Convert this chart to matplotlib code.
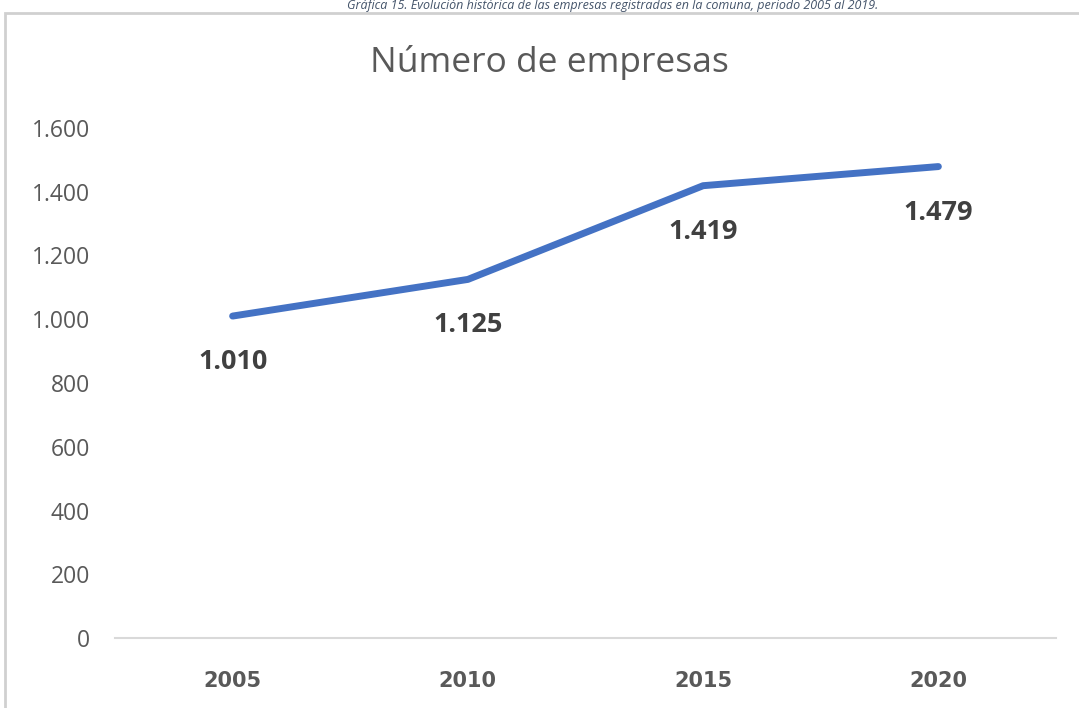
import matplotlib.pyplot as plt
from matplotlib.patches import Rectangle

# Datos
anios = ["2005", "2010", "2015", "2020"]
empresas = [1010, 1125, 1419, 1479]
etiquetas = ["1.010", "1.125", "1.419", "1.479"]
yticks = [0, 200, 400, 600, 800, 1000, 1200, 1400, 1600]
ytick_labels = ["0", "200", "400", "600", "800", "1.000", "1.200", "1.400", "1.600"]

fig = plt.figure(figsize=(10.79, 7.08), dpi=100)
ax = fig.add_axes([115 / 1079, 70 / 708, 941 / 1079, 510 / 708])

# Leyenda de la gráfica (arriba del marco)
fig.text(613 / 1079, 1 - 6 / 708, "Gráfica 15. Evolución histórica de las empresas registradas en la comuna, periodo 2005 al 2019.",
         ha="center", va="center", fontsize=9, style="italic", color="#44546a", family=["Open Sans", "DejaVu Sans"])
# Marco del gráfico
fig.patches.append(Rectangle((5 / 1079, -0.05), 1.1, 1 - 13 / 708 + 0.05, transform=fig.transFigure,
                             fill=False, edgecolor="#d0d0d0", linewidth=2))

x = range(len(anios))
ax.plot(x, empresas, color="#4472c4", linewidth=5, solid_capstyle="round")

for xi, yi, t in zip(x, empresas, etiquetas):
    ax.annotate(t, (xi, yi), xytext=(0, -46), textcoords="offset pixels", ha="center", va="center",
                fontsize=19.5, fontweight="bold", color="#404040", family=["Open Sans", "DejaVu Sans"])

ax.set_xlim(-0.5, 3.5)
ax.set_ylim(0, 1600)
ax.set_xticks(list(x))
ax.set_xticklabels(anios, fontsize=15, fontweight="bold", color="#595959",
                   family=["Liberation Sans Narrow", "DejaVu Sans"])
ax.set_yticks(yticks)
ax.set_yticklabels(ytick_labels, fontsize=16.5, color="#595959", family=["Open Sans", "DejaVu Sans"])
ax.tick_params(length=0)
ax.tick_params(axis="x", pad=24)
ax.tick_params(axis="y", pad=18)

for s in ["top", "right", "left"]:
    ax.spines[s].set_visible(False)
ax.spines["bottom"].set_color("#d9d9d9")
ax.spines["bottom"].set_linewidth(1.5)

fig.text(549 / 1079, 1 - 63 / 708, "Número de empresas", ha="center", va="center",
         fontsize=25.5, color="#595959", family=["Open Sans", "DejaVu Sans"])

fig.savefig("out.png", dpi=100)
